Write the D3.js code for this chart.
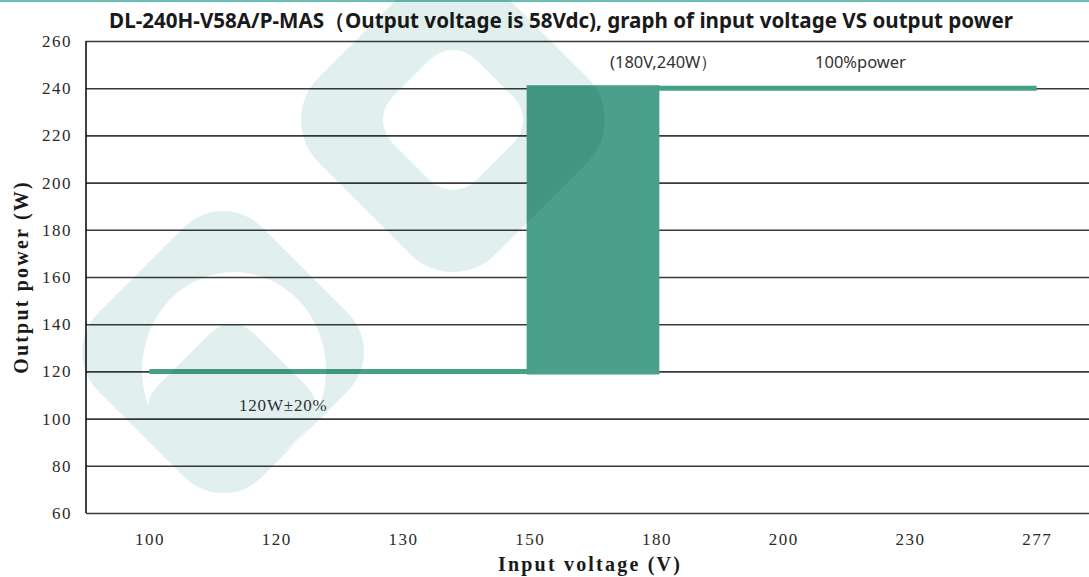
<!DOCTYPE html>
<html>
<head>
<meta charset="utf-8">
<script src="https://cdn.jsdelivr.net/npm/d3@7"></script>
<style>
  html, body { margin: 0; padding: 0; background: #fff; }
  svg { display: block; }
</style>
</head>
<body>
<svg id="chart" width="1089" height="577"></svg>
<script>
// ---- data ----
const voltages = ["100", "120", "130", "150", "180", "200", "230", "277"];
const yTicks = [60, 80, 100, 120, 140, 160, 180, 200, 220, 240, 260];
const lowPower = [["100", 120], ["150", 120]];          // 120W ± 20% segment
const highPower = [["180", 240], ["277", 240]];         // 100% power segment
const transition = [["150", 120, 240], ["180", 120, 240]]; // ramp-up band
const titleText = "DL-240H-V58A/P-MAS（Output voltage is 58Vdc), graph of input voltage VS output power";

// ---- layout ----
const W = 1089, H = 577;
const plot = { left: 86, right: 1100, top: 41, bottom: 513 };
const svg = d3.select("#chart");

const x = d3.scalePoint().domain(voltages).range([plot.left, plot.right]).padding(0.5);
const y = d3.scaleLinear().domain([60, 260]).range([plot.bottom, plot.top]);

// top teal border
svg.append("line").attr("x1", 0).attr("x2", W).attr("y1", 1).attr("y2", 1)
  .attr("stroke", "#3aa89c").attr("stroke-width", 1.5);

// title
svg.append("text")
  .attr("x", 561).attr("y", 28)
  .attr("text-anchor", "middle")
  .attr("font-family", "'Noto Sans', 'Open Sans', sans-serif")
  .attr("font-weight", "bold")
  .attr("font-size", 20.6)
  .attr("fill", "#1a1a1a")
  .text(titleText);

// gridlines
const grid = svg.append("g").attr("transform", `translate(${plot.left},0)`)
  .call(d3.axisLeft(y).tickValues(yTicks).tickSize(-(W - plot.left)).tickFormat(""));
grid.select(".domain").remove();
grid.selectAll(".tick line").attr("stroke", "#3a3a3a").attr("stroke-width", 1.6);

// y tick labels
const yAxis = svg.append("g").attr("transform", `translate(${plot.left - 14},0)`)
  .call(d3.axisLeft(y).tickValues(yTicks).tickSize(0).tickPadding(0));
yAxis.select(".domain").remove();
yAxis.selectAll("text")
  .attr("font-family", "'Liberation Serif', serif")
  .attr("font-size", 17).attr("letter-spacing", 1.5)
  .attr("fill", "#2a2a2a");

// left axis line
svg.append("line").attr("x1", plot.left).attr("x2", plot.left)
  .attr("y1", plot.top).attr("y2", plot.bottom)
  .attr("stroke", "#111").attr("stroke-width", 1.6);

// x tick labels
const xAxis = svg.append("g").attr("transform", `translate(0,${plot.bottom + 20})`)
  .call(d3.axisBottom(x).tickSize(0).tickPadding(0));
xAxis.select(".domain").remove();
xAxis.selectAll("text")
  .attr("font-family", "'Liberation Serif', serif")
  .attr("font-size", 17).attr("letter-spacing", 1.5)
  .attr("fill", "#2a2a2a");

// axis titles
svg.append("text")
  .attr("x", 590).attr("y", 571)
  .attr("text-anchor", "middle")
  .attr("font-family", "'Liberation Serif', serif")
  .attr("font-weight", "bold").attr("font-size", 20).attr("letter-spacing", 2.2)
  .attr("fill", "#1a1a1a")
  .text("Input voltage (V)");
svg.append("text")
  .attr("transform", "translate(28,277) rotate(-90)")
  .attr("text-anchor", "middle")
  .attr("font-family", "'Liberation Serif', serif")
  .attr("font-weight", "bold").attr("font-size", 20).attr("letter-spacing", 2.2)
  .attr("fill", "#1a1a1a")
  .text("Output power (W)");

// data marks
const green = "#45a086";
const area = d3.area().x(d => x(d[0])).y0(d => y(d[1])).y1(d => y(d[2]));
svg.append("path").datum(transition)
  .attr("d", area).attr("fill", "#4aa08a")
  .attr("stroke", "#4aa08a").attr("stroke-width", 6).attr("stroke-linejoin", "miter");

const line = d3.line().x(d => x(d[0])).y(d => y(d[1]));
svg.append("path").datum(lowPower).attr("d", line)
  .attr("fill", "none").attr("stroke", green).attr("stroke-width", 5);
svg.append("path").datum(highPower).attr("d", line)
  .attr("fill", "none").attr("stroke", green).attr("stroke-width", 5);

// annotations
svg.append("text").attr("x", 610).attr("y", 68)
  .attr("font-family", "'Noto Sans', sans-serif").attr("font-size", 16.5)
  .attr("fill", "#333").text("(180V,240W）");
svg.append("text").attr("x", 815).attr("y", 68)
  .attr("font-family", "'Noto Sans', sans-serif").attr("font-size", 16.5)
  .attr("fill", "#333").text("100%power");
svg.append("text").attr("x", 239).attr("y", 411)
  .attr("font-family", "'Liberation Serif', serif").attr("font-size", 17).attr("letter-spacing", 0.8)
  .attr("fill", "#333").text("120W±20%");

// ---- faint watermark ----
const wm = svg.append("g").style("mix-blend-mode", "multiply").attr("pointer-events", "none");
const wmColor = "#e1f0ee";
function diamond(g, cx, cy, h, r, fill) {
  const s = (h + r * (Math.SQRT2 - 1)) * Math.SQRT2;
  g.append("rect").attr("x", cx - s / 2).attr("y", cy - s / 2)
    .attr("width", s).attr("height", s).attr("rx", r).attr("ry", r)
    .attr("transform", `rotate(45,${cx},${cy})`).attr("fill", fill);
}
// lower-left emblem
diamond(wm, 223, 352, 141, 55, wmColor);
wm.append("ellipse").attr("cx", 234).attr("cy", 370).attr("rx", 92).attr("ry", 98).attr("fill", "#fff");
diamond(wm, 232, 408, 84, 30, wmColor);
// upper-middle ring
diamond(wm, 453, 120, 152, 60, wmColor);
diamond(wm, 453, 120, 70, 32, "#fff");
</script>
</body>
</html>
